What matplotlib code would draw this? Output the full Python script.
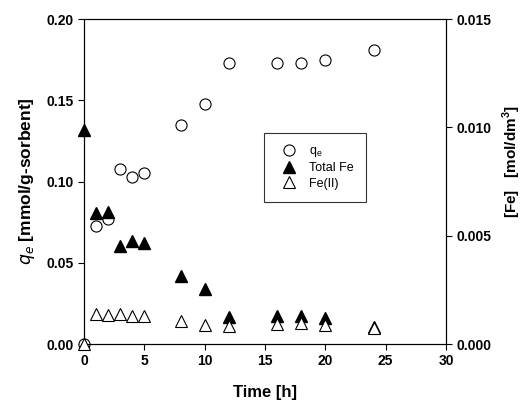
import matplotlib.pyplot as plt

plt.rcParams['font.family'] = ['Liberation Sans', 'DejaVu Sans']

# sampling times [h]
time_h = [0, 1, 2, 3, 4, 5, 8, 10, 12, 16, 18, 20, 24]
# adsorbed amount q_e [mmol/g-sorbent]
qe = [0.0, 0.0726, 0.0767, 0.108, 0.103, 0.105, 0.135, 0.148, 0.173, 0.173, 0.173, 0.175, 0.181]
# iron concentrations [mol/dm3]
total_fe = [0.0099, 0.00603, 0.00608, 0.00452, 0.00475, 0.00465, 0.00315, 0.00252,
            0.00126, 0.00131, 0.00128, 0.00118, 0.0008]
fe2 = [0.0, 0.00137, 0.00134, 0.00137, 0.00129, 0.00129, 0.00108, 0.00089,
       0.00083, 0.00092, 0.00098, 0.00086, 0.00074]

fig = plt.figure(figsize=(5.25, 4.01), dpi=100)
ax = fig.add_axes([0.16, 0.142, 0.6895, 0.8106])
ax2 = ax.twinx()

ms = 8
l1, = ax.plot(time_h, qe, 'o', mfc='white', mec='black', mew=0.8, ms=ms,
              clip_on=False, zorder=3, label='q$_\\mathregular{e}$')
l2, = ax2.plot(time_h, total_fe, '^', mfc='black', mec='black', ms=ms + 1,
               clip_on=False, zorder=3, label='Total Fe')
l3, = ax2.plot(time_h, fe2, '^', mfc='white', mec='black', mew=0.8, ms=ms + 1,
               clip_on=False, zorder=3, label='Fe(II)')

ax.set_xlim(0, 30)
ax.set_ylim(0, 0.20)
ax2.set_ylim(0, 0.015)
ax.set_xticks([0, 5, 10, 15, 20, 25, 30])
ax.set_yticks([0.0, 0.05, 0.10, 0.15, 0.20])
ax2.set_yticks([0.0, 0.005, 0.010, 0.015])
ax.set_yticklabels(['0.00', '0.05', '0.10', '0.15', '0.20'])
ax2.set_yticklabels(['0.000', '0.005', '0.010', '0.015'])

for a in (ax, ax2):
    a.tick_params(direction='out', length=4, width=0.8, labelsize=10)
    for lab in a.get_xticklabels() + a.get_yticklabels():
        lab.set_fontweight('bold')
    for s in a.spines.values():
        s.set_linewidth(0.8)

ax.set_xlabel('Time [h]', fontsize=12, fontweight='bold', labelpad=12)
ax.set_ylabel('$\\mathbf{\\it{q}_e}$ [mmol/g-sorbent]', fontsize=12.5, fontweight='bold', labelpad=7)
ax2.set_ylabel('[Fe]   [mol/dm$^\\mathregular{3}$]', fontsize=11, fontweight='bold')
ax2.yaxis.set_label_coords(1.152, 0.56)

leg = ax.legend(handles=[l1, l2, l3], loc='upper left', bbox_to_anchor=(0.497, 0.65),
                fontsize=9, frameon=True, fancybox=False, edgecolor='black',
                borderpad=1.0, handletextpad=0.6, labelspacing=0.25, borderaxespad=0)
leg.get_frame().set_linewidth(0.8)

fig.savefig('out.png', dpi=100)
